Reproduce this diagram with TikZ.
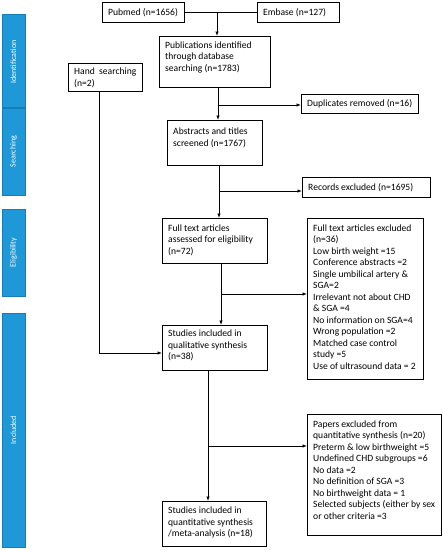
\documentclass[tikz,border=0pt]{standalone}
\usepackage{fontspec}
\setmainfont{Carlito}
\usetikzlibrary{arrows.meta,calc}
\definecolor{barblue}{RGB}{30,152,214}
\definecolor{barline}{RGB}{22,125,185}
% single-line box: name, x, y, width, height, text
\newcommand{\bxc}[6]{\node[box, minimum width=#4pt, minimum height=#5pt] (#1) at (#2,#3) {};
  \node[txt, anchor=west] (#1-t) at ($(#1.west)+(6,0)$) {#6};}
% multi-line box, text at top: name, x, y, width, height, top pad, text
\newcommand{\bxt}[7]{\node[box, minimum width=#4pt, minimum height=#5pt] (#1) at (#2,#3) {};
  \node[txt, anchor=north west] (#1-t) at ($(#1.north west)+(6,#6)$) {#7};}
\begin{document}
\begin{tikzpicture}[x=1pt,y=-1pt,
  box/.style={draw, line width=0.8pt, inner sep=0pt, anchor=north west},
  txt/.style={inner sep=0pt, font=\fontsize{9.6}{11.5}\selectfont, align=left},
  bar/.style={fill=barblue, draw=barline, line width=0.6pt},
  barlabel/.style={rotate=90, text=white, font=\fontsize{8}{9}\selectfont},
  conn/.style={line width=0.8pt},
  arr/.style={line width=0.8pt, -{Latex[length=4.5pt,width=3.5pt]}}
]
\useasboundingbox (0,0) rectangle (443,550);
% side bars
\draw[bar] (2,14) rectangle (25,107);
\node[barlabel] (lid) at (13.5,62) {Identification};
\draw[bar] (2,108) rectangle (25,195);
\node[barlabel] (lse) at (13.5,151.5) {Searching};
\draw[bar] (2,209) rectangle (25,296);
\node[barlabel] (lel) at (13.5,252.5) {Eligibility};
\draw[bar] (2,313) rectangle (25,547);
\node[barlabel] (lin) at (13.5,430) {Included};
% boxes
\bxc{pubmed}{102}{2}{82}{20}{Pubmed (n=1656)}
\bxc{embase}{257}{2}{82}{20}{Embase (n=127)}
\bxt{pub}{159}{36}{111}{51}{5.5}{Publications identified\\through database\\searching (n=1783)}
\bxt{hand}{68}{63}{74}{28}{5}{Hand\ \ searching\\(n=2)}
\bxc{dup}{301}{94}{117}{19}{Duplicates removed (n=16)}
\bxt{abs}{167}{120}{95}{45}{8}{Abstracts and titles\\screened (n=1767)}
\bxc{rec}{302}{177}{128}{20}{Records excluded (n=1695)}
\bxt{ft}{162}{218}{105}{45}{6.5}{Full text articles\\assessed for eligibility\\(n=72)}
\bxt{fte}{307}{218}{116}{161}{6.5}{Full text articles excluded\\(n=36)\\Low birth weight =15\\Conference abstracts =2\\Single umbilical artery \&\\SGA=2\\Irrelevant not about CHD\\\& SGA =4\\No information on SGA=4\\Wrong population =2\\Matched case control\\study =5\\Use of ultrasound data = 2}
\bxt{sq}{162}{325}{105}{45}{5}{Studies included in\\qualitative synthesis\\(n=38)}
\bxt{pe}{307}{414}{134}{121}{6.5}{Papers excluded from\\quantitative synthesis (n=20)\\Preterm \& low birthweight =5\\Undefined CHD subgroups =6\\No data =2\\No definition of SGA =3\\No birthweight data = 1\\Selected subjects (either by sex\\or other criteria =3}
\bxt{sqt}{162}{501}{104}{45}{6}{Studies included in\\quantitative synthesis\\/meta-analysis (n=18)}
% junction coordinates
\coordinate (j1) at (217,12);
\coordinate (j2) at (218,105);
\coordinate (j3) at (219,191);
\coordinate (j4) at (221,294);
\coordinate (j5) at (99,353);
\coordinate (j6) at (208,446);
% connectors
\draw[conn] (pubmed.east |- j1) -- (embase.west |- j1);
\draw[arr] (j1) -- (j1 |- pub.north);
\draw[arr] (j2 |- pub.south) -- (j2 |- abs.north);
\draw[arr] (j2) -- (j2 -| dup.west);
\draw[arr] (j3 |- abs.south) -- (j3 |- ft.north);
\draw[arr] (j3) -- (j3 -| rec.west);
\draw[arr] (j4 |- ft.south) -- (j4 |- sq.north);
\draw[arr] (j4) -- (j4 -| fte.west);
\draw[arr] (j5 |- hand.south) -- (j5) -- (j5 -| sq.west);
\draw[arr] (j6 |- sq.south) -- (j6 |- sqt.north);
\draw[arr] (j6) -- (j6 -| pe.west);
\end{tikzpicture}
\end{document}
